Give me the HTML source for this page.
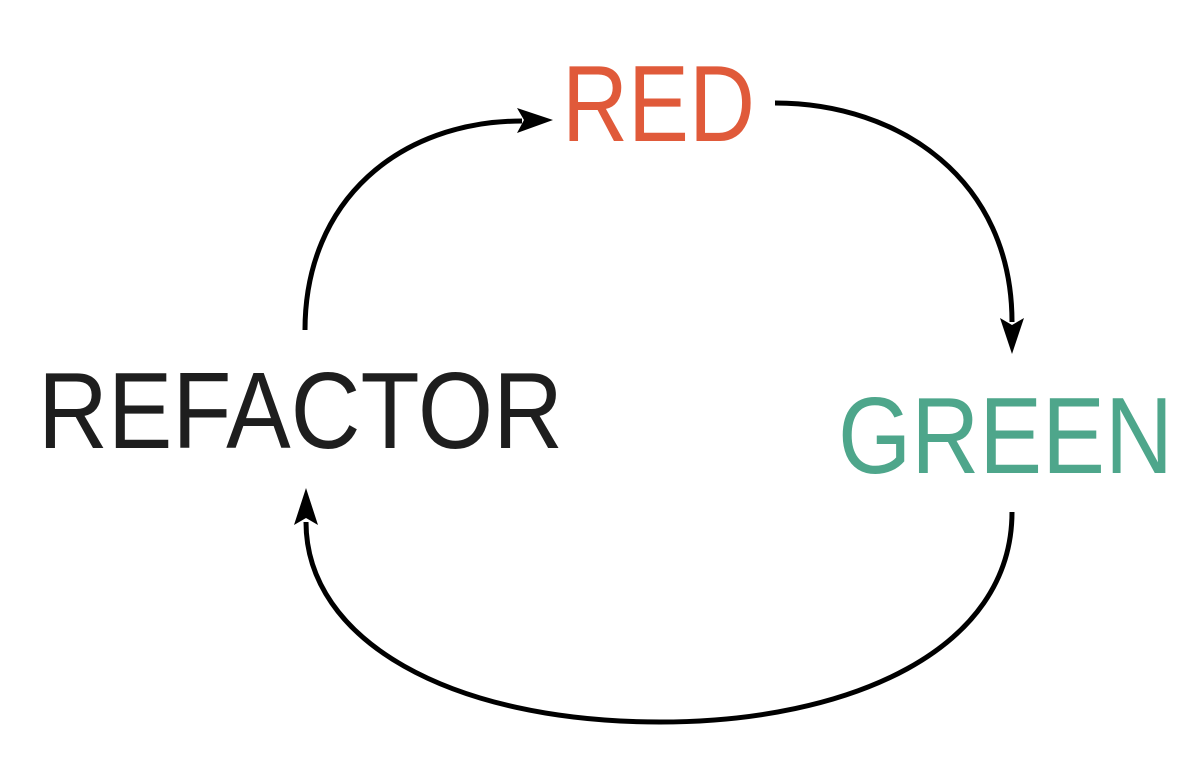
<!DOCTYPE html>
<html><head><meta charset="utf-8"><style>html,body{margin:0;padding:0;background:#fff;width:1200px;height:767px;overflow:hidden}</style></head>
<body>
<svg width="1200" height="767" viewBox="0 0 1200 767" xmlns="http://www.w3.org/2000/svg">
<g font-family="Liberation Sans, DejaVu Sans, sans-serif" font-size="109">
<text x="38" y="448" textLength="525" lengthAdjust="spacingAndGlyphs" fill="#1e1e1e">REFACTOR</text>
<text x="562" y="141" textLength="193" lengthAdjust="spacingAndGlyphs" fill="#e05a3a">RED</text>
<text x="838" y="473" textLength="335" lengthAdjust="spacingAndGlyphs" fill="#4ea68b">GREEN</text>
</g>
<g fill="none" stroke="#000" stroke-width="5">
<path d="M305,330 C305,200 400,121 522,121"/>
<path d="M775,103 C900,103 1012,180 1012,322"/>
<path d="M1012,512 C1012,650 850,722 660,722 C450,722 306,640 306,522"/>
</g>
<g fill="#000">
<polygon points="553,120 517,108 524,120 517,133"/>
<polygon points="1012,354 1000,318 1012,325 1024,318"/>
<polygon points="306,488 294,525 306,518 318,525"/>
</g>
</svg>
</body></html>
